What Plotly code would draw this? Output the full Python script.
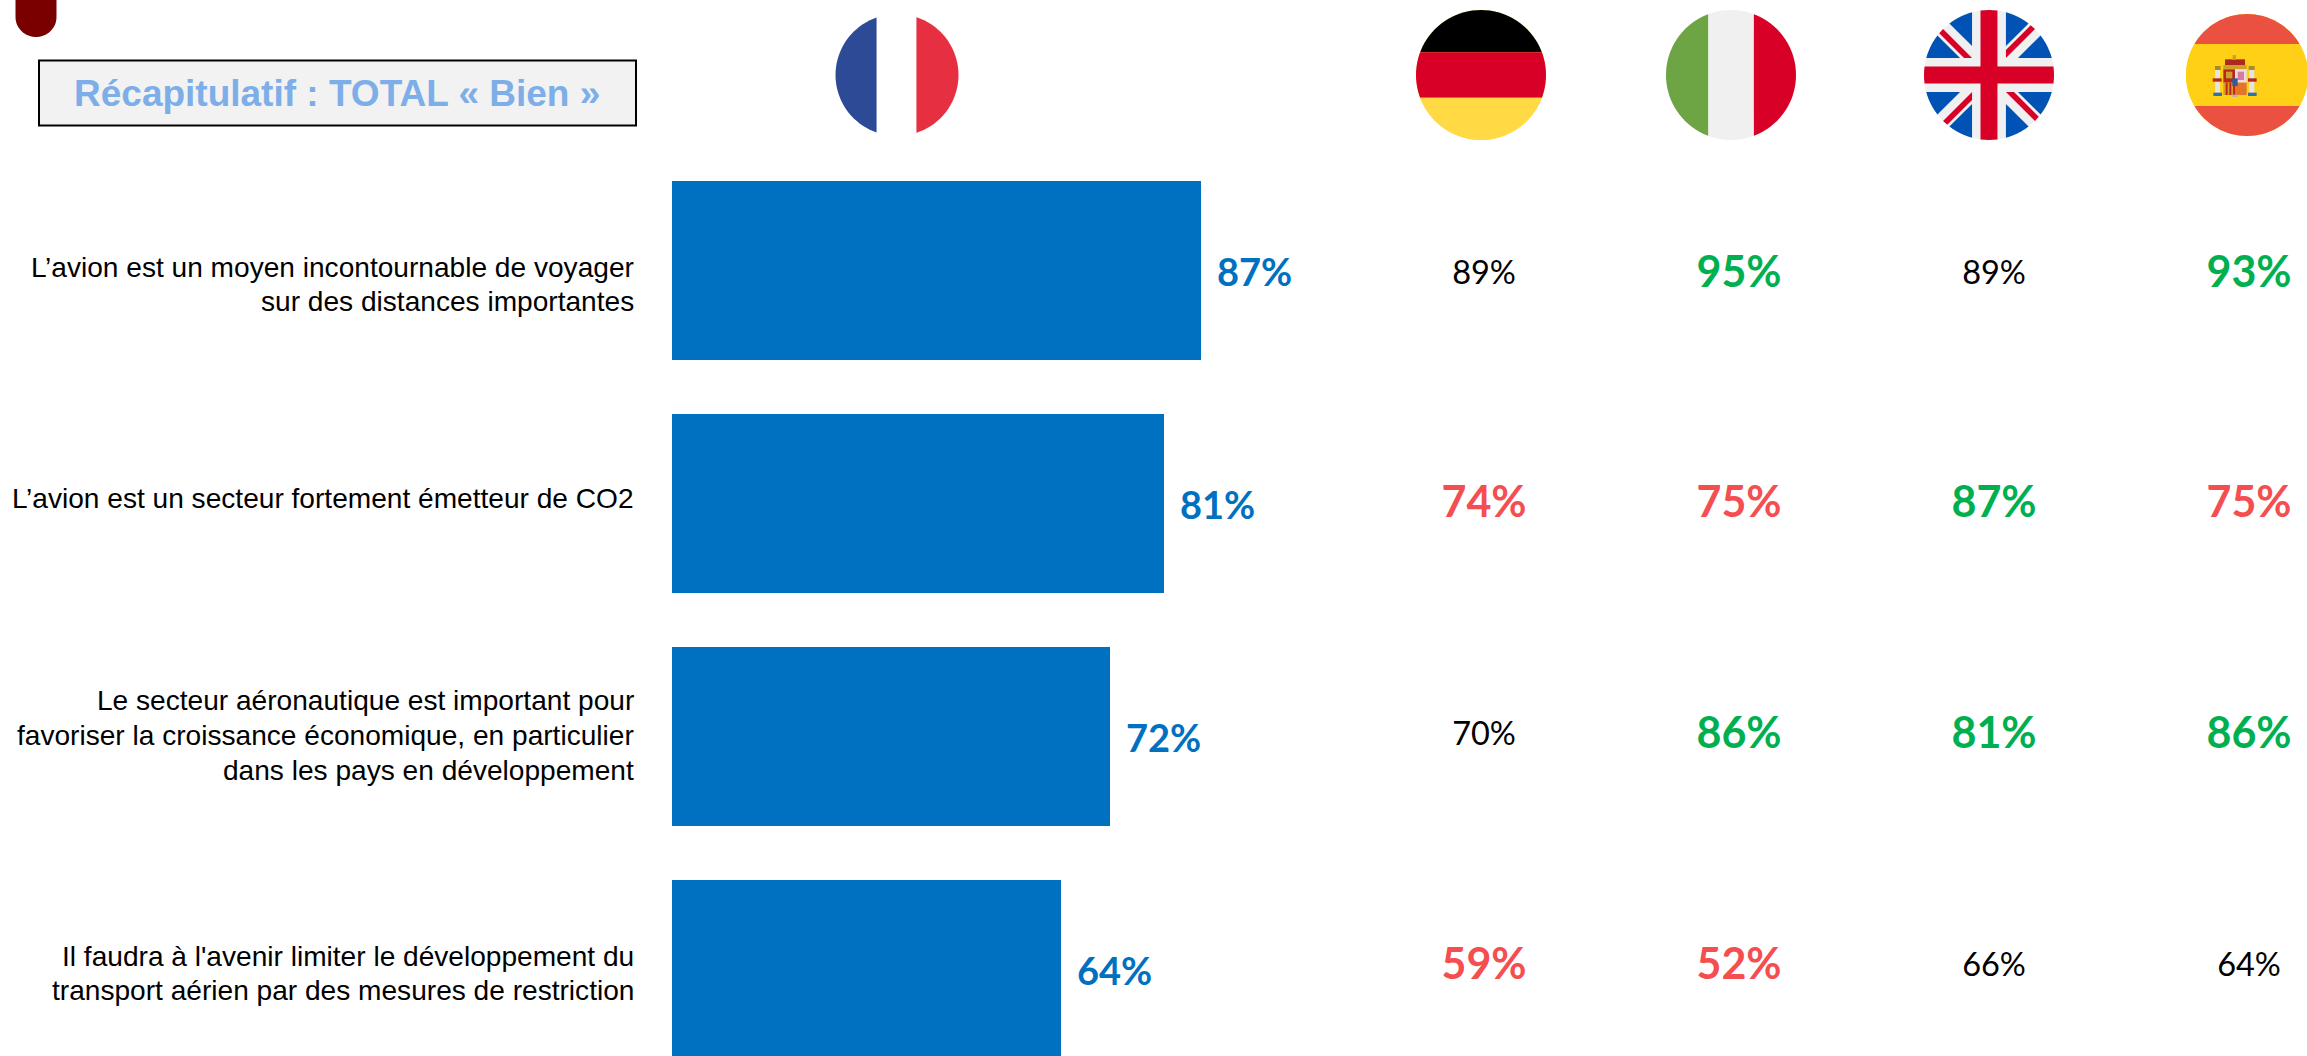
import numpy as np
import plotly.graph_objects as go

W, H = 2307, 1056

# ---------- data ----------
statements = [
    "L’avion est un moyen incontournable de voyager<br>sur des distances importantes",
    "L’avion est un secteur fortement émetteur de CO2",
    "Le secteur aéronautique est important pour<br>favoriser la croissance économique, en particulier<br>dans les pays en développement",
    "Il faudra à l'avenir limiter le développement du<br>transport aérien par des mesures de restriction",
]
france = [87, 81, 72, 64]
countries = ["Allemagne", "Italie", "Royaume-Uni", "Espagne"]
germany = [89, 74, 70, 59]
italy = [95, 75, 86, 52]
uk = [89, 87, 81, 66]
spain = [93, 75, 86, 64]
germany_sig = ["", "low", "", "low"]
italy_sig = ["high", "low", "high", "low"]
uk_sig = ["", "high", "high", ""]
spain_sig = ["high", "low", "high", ""]
title_text = "Récapitulatif : TOTAL « Bien »"

# ---------- style ----------
BLUE = "#0070C0"
GREEN = "#00B050"
RED = "#F44E50"
LATO = "Lato, 'Open Sans', sans-serif"
ARIAL = "'Liberation Sans', Arial, sans-serif"
sig_color = {"": "#000000", "high": GREEN, "low": RED}
sig_size = {"": 32.5, "high": 43, "low": 43}
sig_weight = {"": 400, "high": 700, "low": 700}

# ---------- page-pixel helpers for the decorative shapes ----------
def path_from(points):
    pts = [(x / W, 1 - y / H) for x, y in points]
    return "M " + " L ".join(f"{x:.5f},{y:.5f}" for x, y in pts) + " Z"

def shape(points, color):
    return dict(type="path", xref="paper", yref="paper", path=path_from(points),
                fillcolor=color, line=dict(width=0), layer="above")

def clip_convex(subject, clipper):
    out = list(subject)
    n = len(clipper)
    for i in range(n):
        a, b = clipper[i], clipper[(i + 1) % n]
        def inside(p):
            return (b[0]-a[0])*(p[1]-a[1]) - (b[1]-a[1])*(p[0]-a[0]) >= 0
        def cross_pt(p, q):
            d1 = (b[0]-a[0])*(p[1]-a[1]) - (b[1]-a[1])*(p[0]-a[0])
            d2 = (b[0]-a[0])*(q[1]-a[1]) - (b[1]-a[1])*(q[0]-a[0])
            t = d1 / (d1 - d2)
            return (p[0] + t*(q[0]-p[0]), p[1] + t*(q[1]-p[1]))
        inp, out = out, []
        for j in range(len(inp)):
            p, q = inp[j], inp[(j + 1) % len(inp)]
            if inside(p):
                out.append(p)
                if not inside(q):
                    out.append(cross_pt(p, q))
            elif inside(q):
                out.append(cross_pt(p, q))
        if not out:
            return []
    return out

def circle_flag(cx, cy, rx, ry, polys, base):
    """polys are given in a 512-unit flag box, clipped to the round flag."""
    ang = np.linspace(0, 2*np.pi, 97)[:-1]
    circ = [(256 + 256*np.cos(a), 256 + 256*np.sin(a)) for a in ang]
    conv = lambda p: (cx + (p[0]-256)/256*rx, cy + (p[1]-256)/256*ry)
    res = [shape([conv(p) for p in circ], base)]
    for pts, col in polys:
        c = clip_convex(pts, circ)
        if c:
            res.append(shape([conv(p) for p in c], col))
    return res

def box(x0, y0, x1, y1):
    return [(x0, y0), (x1, y0), (x1, y1), (x0, y1)]

shapes = []

# dark red tab, top left
tab_arc = [(36 + 20.5*np.cos(a), 17 + 20*np.sin(a)) for a in np.linspace(0, np.pi, 30)]
shapes.append(shape([(56.5, 0)] + tab_arc + [(15.5, 0)], "#7A0000"))

# title box
shapes.append(dict(type="rect", xref="paper", yref="paper", x0=39/W, x1=636/W,
                   y0=1-125.5/H, y1=1-60.5/H, fillcolor="#F2F2F2",
                   line=dict(color="#000000", width=2), layer="above"))

# France
shapes += circle_flag(897, 75, 61.5, 61, [
    (box(0, -10, 171, 522), "#2D4A96"),
    (box(337, -10, 512, 522), "#E63042"),
], "#FFFFFF")

# Germany
shapes += circle_flag(1481, 75, 65, 65, [
    (box(-5, -5, 517, 166), "#000000"),
    (box(-5, 166, 517, 346), "#D80027"),
    (box(-5, 346, 517, 517), "#FFDA44"),
], "#FFDA44")

# Italy
shapes += circle_flag(1731, 75, 65, 65, [
    (box(-5, -5, 166, 517), "#6DA544"),
    (box(346, -5, 517, 517), "#D80027"),
], "#F0F0F0")

# United Kingdom
UB, UR = "#0052B4", "#D80027"
uk_polys = [
    ([(142, 189.2), (-20, 27.2), (-20, 189.2)], UB),
    ([(370, 189.2), (532, 27.2), (532, 189.2)], UB),
    ([(142, 322.8), (-20, 484.8), (-20, 322.8)], UB),
    ([(370, 322.8), (532, 484.8), (532, 322.8)], UB),
    ([(322.8, 142), (484.8, -20), (322.8, -20)], UB),
    ([(189.2, 142), (27.2, -20), (189.2, -20)], UB),
    ([(189.2, 370), (27.2, 532), (189.2, 532)], UB),
    ([(322.8, 370), (484.8, 532), (322.8, 532)], UB),
    (box(222.6, -5, 289.4, 517), UR),
    (box(-5, 222.6, 517, 289.4), UR),
    ([(189.2, 189.2), (20, 20), (20, 51.5), (157.7, 189.2)], UR),
    ([(322.8, 189.2), (492, 20), (460.5, 20), (322.8, 157.7)], UR),
    ([(322.8, 322.8), (492, 492), (492, 460.5), (354.3, 322.8)], UR),
    ([(189.2, 322.8), (20, 492), (51.5, 492), (189.2, 354.3)], UR),
]
shapes += circle_flag(1989, 75, 65, 65, uk_polys, "#F0F0F0")

# Spain
shapes += circle_flag(2247, 75, 61, 61, [
    (box(-5, -5, 517, 126), "#EB5140"),
    (box(-5, 126, 517, 386), "#FFD015"),
    (box(-5, 386, 517, 517), "#EB5140"),
], "#FFD015")
def sp(x0, y0, x1, y1, c):
    # coordinates read on the 3x crop of the Spanish flag
    return shape(box(2160 + x0/3, y0/3, 2160 + x1/3, y1/3), c)
shapes += [
    sp(195, 178, 255, 205, "#B0271F"), sp(190, 195, 260, 207, "#C9A227"), sp(218, 165, 228, 180, "#C9A227"),
    sp(165, 208, 180, 278, "#E4E4E4"), sp(268, 208, 283, 278, "#E4E4E4"),
    sp(165, 198, 182, 210, "#A9892B"), sp(266, 198, 284, 210, "#A9892B"),
    sp(160, 278, 186, 288, "#2F6DB5"), sp(264, 278, 290, 288, "#2F6DB5"),
    sp(158, 235, 185, 245, "#B9261C"), sp(264, 235, 290, 245, "#B9261C"),
    sp(190, 208, 225, 248, "#B9261C"), sp(225, 208, 260, 248, "#EADCE2"),
    sp(233, 215, 252, 240, "#D77BA0"), sp(198, 215, 217, 235, "#C9A227"),
    sp(190, 248, 225, 285, "#D9A021"), sp(225, 248, 260, 285, "#E5742A"),
    sp(197, 248, 203, 285, "#C0271F"), sp(208, 248, 214, 285, "#C0271F"), sp(219, 248, 225, 285, "#C0271F"),
    sp(217, 235, 233, 258, "#2E5C9E"), sp(217, 284, 233, 291, "#B5B5B5"),
]

# ---------- annotations ----------
annotations = [dict(x=336.5/W, y=1-93/H, xref="paper", yref="paper", text=f"<b>{title_text}</b>",
                    showarrow=False, xanchor="center", yanchor="middle",
                    font=dict(family=ARIAL, size=37, color="#7DAEE8"))]

LINE_STEP = 34.6
statement_shift = [-14, 5, 1, -4]
for i, s in enumerate(statements):
    lines = s.split("<br>")
    for j, line in enumerate(lines):
        annotations.append(dict(x=0, y=i, xref="x", yref="y", text=line, showarrow=False,
                                xanchor="right", yanchor="middle", align="right",
                                xshift=-36,
                                yshift=statement_shift[i] - (j - (len(lines)-1)/2)*LINE_STEP,
                                font=dict(family=ARIAL, size=28.1, color="#000000")))
for i, v in enumerate(france):
    annotations.append(dict(x=v, y=i, xref="x", yref="y", text=f"<b>{v}%</b>", showarrow=False,
                            xanchor="left", yanchor="middle", xshift=14, yshift=0,
                            font=dict(family=LATO, size=38, color=BLUE)))

# ---------- figure ----------
fig = go.Figure()
fig.add_trace(go.Bar(x=france, y=list(range(4)), orientation="h", width=0.768,
                     marker=dict(color=BLUE, line=dict(width=0)), showlegend=False, hoverinfo="skip"))

rows_idx = list(range(4))
for name, vals, sig in zip(countries, [germany, italy, uk, spain],
                           [germany_sig, italy_sig, uk_sig, spain_sig]):
    fig.add_trace(go.Scatter(
        x=[name]*4, y=rows_idx, mode="text", text=[f"{v}%" for v in vals], xaxis="x2", yaxis="y2",
        textposition="middle center", showlegend=False, hoverinfo="skip",
        textfont=dict(family=LATO, color=[sig_color[s] for s in sig],
                      size=[sig_size[s] for s in sig], weight=[sig_weight[s] for s in sig]),
    ))

PX_PER_UNIT = 6.08
COL_STEP = 255
ROW_STEP = 233
TBL_STEP = 230.6
TBL_Y0 = 276
fig.update_layout(
    width=W, height=H, margin=dict(l=0, r=0, t=0, b=0, pad=0),
    paper_bgcolor="#FFFFFF", plot_bgcolor="#FFFFFF", showlegend=False,
    bargap=0, shapes=shapes, annotations=annotations,
    xaxis=dict(range=[-672/PX_PER_UNIT, (W-672)/PX_PER_UNIT], visible=False, domain=[0, 1]),
    yaxis=dict(range=[(H-270.5)/ROW_STEP, -270.5/ROW_STEP], visible=False, domain=[0, 1]),
    xaxis2=dict(type="category", categoryorder="array", categoryarray=countries, overlaying="x",
                range=[-1484/COL_STEP, (W-1484)/COL_STEP], visible=False),
    yaxis2=dict(range=[(H-TBL_Y0)/TBL_STEP, -TBL_Y0/TBL_STEP], visible=False, overlaying="y"),
)
fig.write_html("out.html", config=dict(displayModeBar=False),
               post_script="document.body.style.margin='0';document.body.style.overflow='hidden';")
